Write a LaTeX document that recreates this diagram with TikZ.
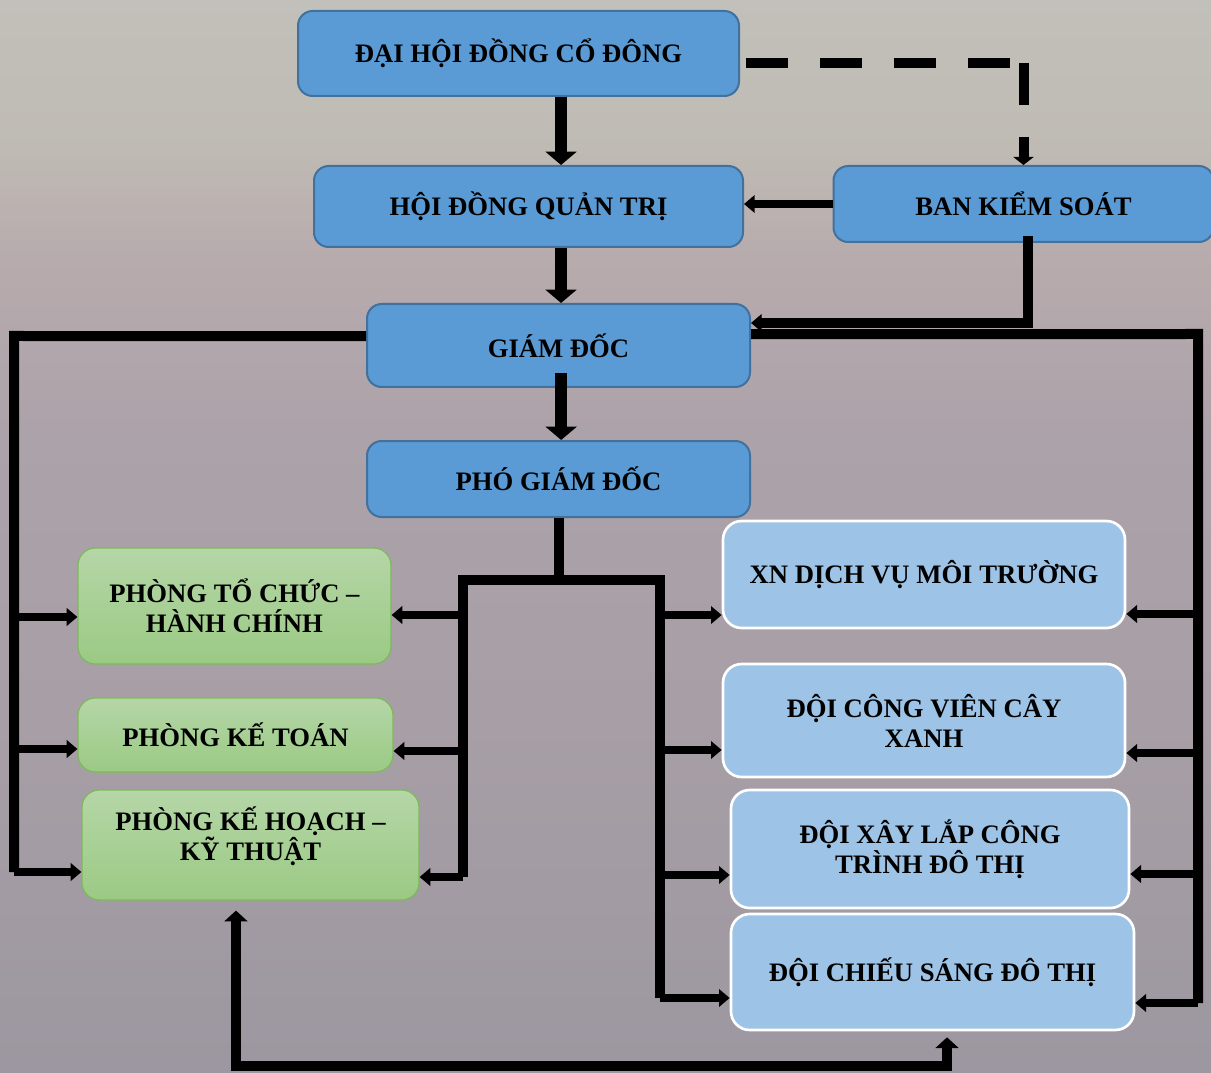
\documentclass[tikz,border=0pt]{standalone}
\usepackage{fontspec}
\setmainfont{Liberation Serif}
\usetikzlibrary{arrows.meta,calc}
\definecolor{bgA}{HTML}{C2C0BA}
\definecolor{bgB}{HTML}{BFBAB4}
\definecolor{bgC}{HTML}{B7ABAD}
\definecolor{bgD}{HTML}{ACA2A9}
\definecolor{bgE}{HTML}{A89FA6}
\definecolor{bgF}{HTML}{9C97A0}
\definecolor{dkblue}{HTML}{5B9BD5}
\definecolor{dkborder}{HTML}{41719C}
\definecolor{ltblue}{HTML}{9DC3E6}
\definecolor{grtop}{HTML}{B5D6A7}
\definecolor{grbot}{HTML}{9BCA84}
\definecolor{grborder}{HTML}{7DB95A}
\pgfdeclareverticalshading{bgshade}{100bp}{color(0bp)=(bgF); color(25bp)=(bgF); color(42bp)=(bgE); color(55bp)=(bgD); color(63bp)=(bgC); color(68bp)=(bgB); color(75bp)=(bgA); color(100bp)=(bgA)}
\tikzset{
  lbl/.style={font=\fontsize{20}{22.5}\selectfont\bfseries, align=center},
  dkbox/.style={lbl, draw=dkborder, line width=1.5pt, fill=dkblue, rounded corners=11pt, inner sep=0pt},
  ltbox/.style={lbl, draw=white, line width=2pt, fill=ltblue, rounded corners=14pt, inner sep=0pt},
  grbox/.style={lbl, draw=grborder, line width=0.9pt, top color=grtop, bottom color=grbot, rounded corners=13pt, inner sep=0pt},
  big/.style={line width=9pt, -{Triangle[width=23pt,length=10pt]}},
  bus/.style={line width=7.5pt},
  stub/.style={line width=5.5pt, -{Triangle[width=13pt,length=8pt]}},
  dsh/.style={line width=7.5pt, dash pattern=on 31.5pt off 24pt},
  bot/.style={line width=7.5pt, {Triangle[width=17pt,length=8pt]}-{Triangle[width=17pt,length=8pt]}}
}
\begin{document}
\begin{tikzpicture}[x=0.75pt,y=-0.75pt]
\shade[shading=bgshade] (0,0) rectangle (1211,1073);
\useasboundingbox (0,0) rectangle (1211,1073);
% top row nodes
\node[dkbox, minimum width=330.75pt, minimum height=63.75pt] (dh) at (518.5,53.5) {ĐẠI HỘI ĐỒNG CỔ ĐÔNG};
\node[dkbox, minimum width=321.75pt, minimum height=60.75pt] (hd) at (528.5,206.5) {HỘI ĐỒNG QUẢN TRỊ};
\node[dkbox, minimum width=285pt, minimum height=57pt] (bks) at (1023.5,204) {BAN KIỂM SOÁT};
\node[dkbox, minimum width=287.25pt, minimum height=62.25pt] (gd) at (558.5,345.5) {GIÁM ĐỐC};
\node[dkbox, minimum width=287.25pt, minimum height=57pt] (pgd) at (558.5,479) {PHÓ GIÁM ĐỐC};
% green boxes
\node[grbox, minimum width=234.75pt, minimum height=87pt] (ptc) at (234.5,606) {PHÒNG TỔ CHỨC –\\HÀNH CHÍNH};
\node[grbox, minimum width=236.25pt, minimum height=55.5pt] (pkt) at (235.5,735) {PHÒNG KẾ TOÁN};
\node[grbox, minimum width=252.75pt, minimum height=82.5pt] (pkh) at (250.5,845) {};
\node[lbl] (pkhtext) at (250.5,836) {PHÒNG KẾ HOẠCH –\\KỸ THUẬT};
% light blue boxes
\node[ltbox, minimum width=301.5pt, minimum height=80.25pt] (xn) at (924,574.5) {XN DỊCH VỤ MÔI TRƯỜNG};
\node[ltbox, minimum width=301.5pt, minimum height=84.75pt] (dcv) at (924,720.5) {ĐỘI CÔNG VIÊN CÂY\\XANH};
\node[ltbox, minimum width=298.5pt, minimum height=88.5pt] (dxl) at (930,849) {ĐỘI XÂY LẮP CÔNG\\TRÌNH ĐÔ THỊ};
\node[ltbox, minimum width=302.25pt, minimum height=87pt] (dcs) at (932.5,972) {ĐỘI CHIẾU SÁNG ĐÔ THỊ};
% vertical main arrows
\coordinate (a1) at ([xshift=31.9pt]dh.south);
\draw[big] (a1) -- (a1 |- hd.north);
\coordinate (a2) at ([xshift=24.4pt]hd.south);
\draw[big] (a2) -- (a2 |- gd.north);
\coordinate (a3) at ([xshift=2pt,yshift=11pt]gd.south);
\draw[big] (a3) -- (a3 |- pgd.north);
% dashed DH -> BKS
\coordinate (dhR) at ([xshift=4.5pt,yshift=-7pt]dh.east);
\coordinate (dcorner) at (dhR -| bks.north);
\draw[dsh] (dhR) -- ([xshift=-10pt]dcorner);
\draw[dsh, -{Triangle[width=15pt,length=6pt]}] (dcorner) -- (bks.north);
% BKS -> HD
\draw[stub] (bks.west) -- (bks.west -| hd.east);
% BKS -> GD
\coordinate (gdR1) at ([yshift=16.9pt]gd.east);
\draw[line width=7pt, -{Triangle[width=13pt,length=8pt]}] ([xshift=3.4pt,yshift=5pt]bks.south) |- (gdR1);
% GD left bus
\coordinate (L) at (14,336);
\coordinate (ptcL) at ([yshift=-8.25pt]ptc.west);
\coordinate (pktL) at ([yshift=-10.5pt]pkt.west);
\coordinate (pkhL) at ([yshift=-20.25pt]pkh.west);
\draw[bus] ([yshift=7.1pt]gd.west) -- (L) -- (L |- pkhL);
\draw[stub] (ptcL -| L) -- (ptcL);
\draw[stub] (pktL -| L) -- (pktL);
\draw[stub] (pkhL -| L) -- (pkhL);
% GD right bus
\coordinate (R) at (1198,334);
\coordinate (xnR) at ([yshift=-29.6pt]xn.east);
\coordinate (dcvR) at ([yshift=-24.4pt]dcv.east);
\coordinate (dxlR) at ([yshift=-18.75pt]dxl.east);
\coordinate (dcsR) at ([yshift=-23.25pt]dcs.east);
\draw[bus] ([yshift=8.6pt]gd.east) -- (R) -- (R |- dcsR);
\draw[stub] (xnR -| R) -- (xnR);
\draw[stub] (dcvR -| R) -- (dcvR);
\draw[stub] (dxlR -| R) -- (dxlR);
\draw[stub] (dcsR -| R) -- (dcsR);
% PGD tree
\coordinate (T) at (558.5,580);
\coordinate (TL) at (463,580);
\coordinate (TR) at (660,580);
\coordinate (ptcR) at ([yshift=-6.75pt]ptc.east);
\coordinate (pktR) at ([yshift=-12pt]pkt.east);
\coordinate (pkhR) at ([yshift=-24pt]pkh.east);
\coordinate (xnL) at ([yshift=-30.4pt]xn.west);
\coordinate (dcvL) at ([yshift=-22.1pt]dcv.west);
\coordinate (dxlL) at ([yshift=-19.5pt]dxl.west);
\coordinate (dcsL) at ([yshift=-19.5pt]dcs.west);
\draw[bus] (pgd.south) -- (T);
\draw[bus] (TL |- pkhR) -- (TL) -- (TR) -- (TR |- dcsL);
\draw[stub] (ptcR -| TL) -- (ptcR);
\draw[stub] (pktR -| TL) -- (pktR);
\draw[stub] (pkhR -| TL) -- (pkhR);
\draw[stub] (xnL -| TR) -- (xnL);
\draw[stub] (dcvL -| TR) -- (dcvL);
\draw[stub] (dxlL -| TR) -- (dxlL);
\draw[stub] (dcsL -| TR) -- (dcsL);
% bottom connector
\coordinate (pkhB) at ([xshift=-10.9pt,yshift=-7.5pt]pkh.south);
\coordinate (dcsB) at ([xshift=10.9pt,yshift=-4.5pt]dcs.south);
\coordinate (BY) at (0,1066);
\draw[bot] (pkhB) -- (pkhB |- BY) -- (dcsB |- BY) -- (dcsB);
\end{tikzpicture}
\end{document}
